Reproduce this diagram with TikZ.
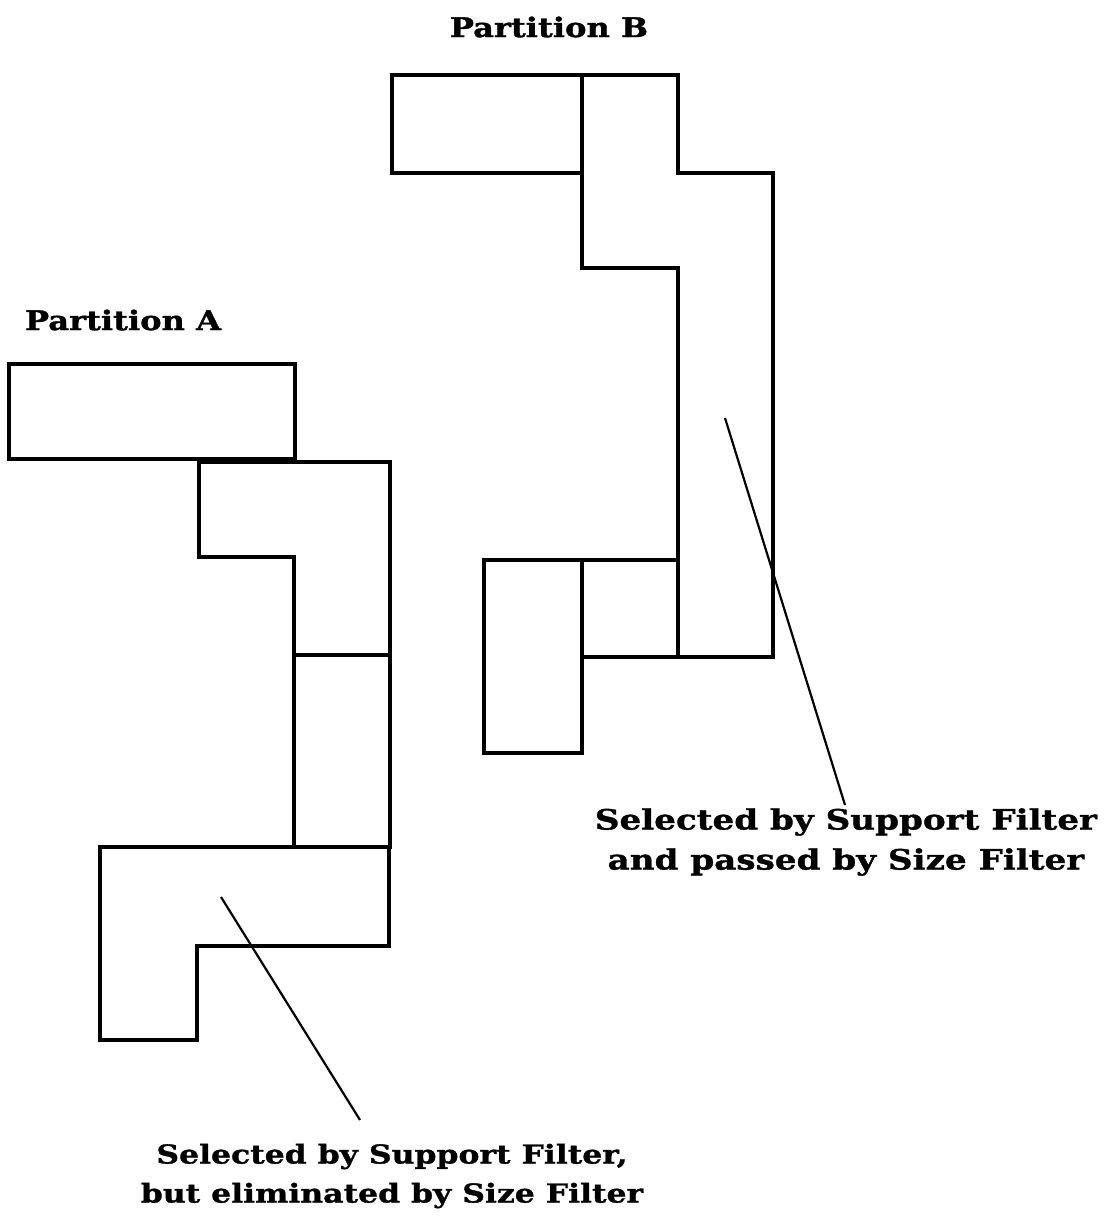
\documentclass[tikz,border=0pt]{standalone}
\usepackage{fontspec}
\newfontfamily\titlefont[FakeStretch=1.19,FakeBold=1.2]{DejaVu Serif}
\newfontfamily\capAfont[FakeStretch=1.21,FakeBold=1.2]{DejaVu Serif}
\newfontfamily\capBfont[FakeStretch=1.22,FakeBold=1.2]{DejaVu Serif}
\begin{document}
\begin{tikzpicture}[x=1pt,y=-1pt,
  blk/.style={draw=black,line width=3.2pt,line join=miter},
  leader/.style={draw=black,line width=2.2pt},
  lbl/.style={align=center,inner sep=0pt},
  ttl/.style={lbl,font=\titlefont\bfseries\fontsize{27}{40}\selectfont},
  capa/.style={lbl,font=\capAfont\bfseries\fontsize{26}{39}\selectfont},
  capb/.style={lbl,font=\capBfont\bfseries\fontsize{28}{40}\selectfont}]
\useasboundingbox (0,0) rectangle (1108,1228);
% Partition A
\draw[blk] (9,364) rectangle (295,459);
\draw[blk] (199,462) -- (390,462) -- (390,655) -- (294,655) -- (294,557) -- (199,557) -- cycle;
\draw[blk] (294,655) rectangle (390,847);
\draw[blk] (100,847) -- (389,847) -- (389,946) -- (197,946) -- (197,1040) -- (100,1040) -- cycle;
% Partition B
\draw[blk] (392,75) rectangle (582,173);
\draw[blk] (582,75) -- (678,75) -- (678,173) -- (773,173) -- (773,657) -- (678,657) -- (678,268) -- (582,268) -- cycle;
\draw[blk] (582,560) rectangle (678,657);
\draw[blk] (484,560) rectangle (582,753);
% titles
\node[ttl] (tb) at (549,27) {Partition B};
\node[ttl] (ta) at (123,320) {Partition A};
% captions
\node[capb] (cb) at (846,842) {Selected by Support Filter\\and passed by Size Filter};
\node[capa] (ca) at (392,1176) {Selected by Support Filter,\\but eliminated by Size Filter};
% leaders
\coordinate (pb) at (725,418);
\coordinate (eb) at (845,805);
\coordinate (pa) at (221,897);
\coordinate (ea) at (360,1120);
\draw[leader] (pb) -- (eb);
\draw[leader] (pa) -- (ea);
\end{tikzpicture}
\end{document}
